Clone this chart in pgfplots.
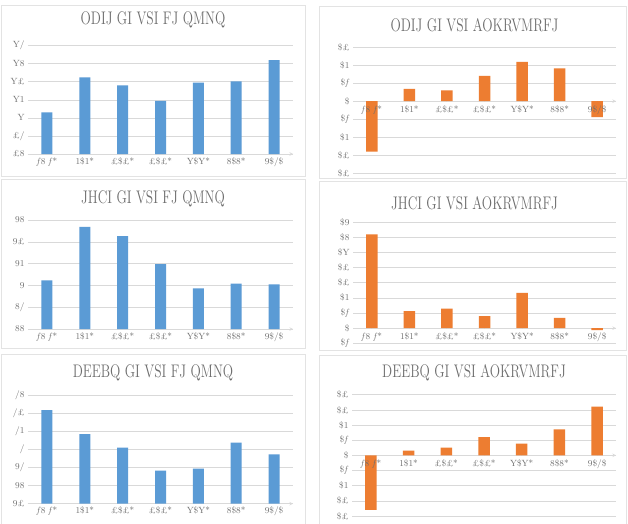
\documentclass[border=0pt]{standalone}
\usepackage{graphicx}
\usepackage{pgfplots}
\pgfplotsset{compat=1.18}
\definecolor{xlblue}{HTML}{5B9BD5}
\definecolor{xlorange}{HTML}{ED7D31}
\definecolor{gridc}{HTML}{D9D9D9}
\definecolor{boxc}{HTML}{E3E3E3}
\definecolor{txt}{HTML}{6E6E6E}
\newcommand{\ff}{\textit{f}}
\newcommand{\ttl}[1]{\scalebox{1}[1.35]{#1}}
\pgfplotsset{
 base/.style={scale only axis, anchor=south west, xmin=-0.5, xmax=6.5, xtick={0,...,6},
   ymajorgrids, grid style={gridc, line width=0.6pt}, major tick length=0pt,
   axis y line=left, y axis line style={draw=none},
   tick label style={font=\fontsize{9}{10}\selectfont, text=txt},
   title style={font=\fontsize{13.5}{15}\selectfont, text=txt, anchor=center, at={(rel axis cs:0.5,1)}},
   hide obscured x ticks=false, hide obscured y ticks=false,
   x axis line style={gridc, line width=0.6pt, -}},
 leftc/.style={base, width=265pt, axis x line=bottom, title style={xshift=-7.5pt},
   xticklabels={\ff8 \ff*, 1\$1*, £\$£*, £\$£*, Y\$Y*, 8\$8*, 9\$/\$}},
 rightc/.style={base, width=263pt, axis x line=middle, title style={xshift=-10pt},
   xticklabels={}, clip=false},
 lbls/.style={only marks, mark=*, mark size=0pt, mark options={draw=none,fill=none},
   point meta=explicit symbolic, nodes near coords,
   every node near coord/.style={anchor=north, yshift=-1pt, font=\fontsize{9}{10}\selectfont, text=txt}},
}
\begin{document}
\begin{tikzpicture}
\useasboundingbox (0pt,0pt) rectangle (628pt,523pt);
\fill[white] (0pt,0pt) rectangle (628pt,523pt);
\draw[boxc] (1pt,518pt) rectangle (305pt,347pt);
\draw[boxc] (1pt,344pt) rectangle (305pt,175pt);
\draw[boxc] (1pt,169pt) rectangle (305pt,-2pt);
\draw[boxc] (319pt,517pt) rectangle (626pt,345pt);
\draw[boxc] (319pt,342pt) rectangle (626pt,173pt);
\draw[boxc] (319pt,168pt) rectangle (626pt,-2pt);

% top-left
\begin{axis}[leftc, at={(28pt,369pt)}, height=108.3pt, ymin=46, ymax=58,
  ytick={46,48,50,52,54,56,58}, yticklabels={£8,£/,Y,Y1,Y£,Y8,Y/},
  title={\ttl{ODIJ GI VSI FJ QMNQ}}, title style={yshift=20pt}]
\addplot[ybar, bar width=11pt, fill=xlblue, draw=none] coordinates {(0,50.6) (1,54.5) (2,53.6) (3,51.9) (4,53.9) (5,54.05) (6,56.4)};
\end{axis}

% top-right
\begin{axis}[rightc, at={(353pt,349.7pt)}, height=126.3pt, ymin=-0.4, ymax=0.3,
  ytick={-0.4,-0.3,-0.2,-0.1,0,0.1,0.2,0.3}, yticklabels={\$£,\$£,\$1,\$\ff,\$,\$\ff,\$1,\$£},
  title={\ttl{ODIJ GI VSI AOKRVMRFJ}}, title style={yshift=16pt}]
\addplot[ybar, bar width=11.5pt, fill=xlorange, draw=none] coordinates {(0,-0.280) (1,0.068) (2,0.059) (3,0.140) (4,0.218) (5,0.181) (6,-0.089)};
\addplot[lbls] coordinates {(0,0) [\ff8 \ff*] (1,0) [1\$1*] (2,0) [£\$£*] (3,0) [£\$£*] (4,0) [Y\$Y*] (5,0) [8\$8*] (6,0) [9\$/\$]};
\end{axis}

% middle-left
\begin{axis}[leftc, at={(28pt,194pt)}, height=109pt, ymin=66, ymax=76,
  ytick={66,68,70,72,74,76}, yticklabels={88,8/,9,91,9£,98},
  title={\ttl{JHCI GI VSI FJ QMNQ}}, title style={yshift=15pt}]
\addplot[ybar, bar width=11pt, fill=xlblue, draw=none] coordinates {(0,70.46) (1,75.36) (2,74.53) (3,71.96) (4,69.73) (5,70.16) (6,70.10)};
\end{axis}

% middle-right
\begin{axis}[rightc, at={(353pt,179.7pt)}, height=121.3pt, ymin=-0.1, ymax=0.7,
  ytick={-0.1,0,0.1,0.2,0.3,0.4,0.5,0.6,0.7}, yticklabels={\$\ff,\$,\$\ff,\$1,\$£,\$£,\$Y,\$8,\$9},
  title={\ttl{JHCI GI VSI AOKRVMRFJ}}, title style={yshift=13pt}]
\addplot[ybar, bar width=11.5pt, fill=xlorange, draw=none] coordinates {(0,0.618) (1,0.112) (2,0.129) (3,0.079) (4,0.232) (5,0.068) (6,-0.013)};
\addplot[lbls] coordinates {(0,0) [\ff8 \ff*] (1,0) [1\$1*] (2,0) [£\$£*] (3,0) [£\$£*] (4,0) [Y\$Y*] (5,0) [8\$8*] (6,0) [9\$/\$]};
\end{axis}

% bottom-left
\begin{axis}[leftc, at={(28pt,19.3pt)}, height=108.7pt, ymin=74, ymax=86,
  ytick={74,76,78,80,82,84,86}, yticklabels={9£,98,9/,/,/1,/£,/8},
  title={\ttl{DEEBQ GI VSI FJ QMNQ}}, title style={yshift=16pt}]
\addplot[ybar, bar width=11pt, fill=xlblue, draw=none] coordinates {(0,84.34) (1,81.69) (2,80.18) (3,77.64) (4,77.86) (5,80.74) (6,79.45)};
\end{axis}

% bottom-right
\begin{axis}[rightc, at={(352pt,7pt)}, width=264pt, height=121.3pt, ymin=-0.4, ymax=0.4,
  ytick={-0.4,-0.3,-0.2,-0.1,0,0.1,0.2,0.3,0.4}, yticklabels={\$£,\$£,\$1,\$\ff,\$,\$\ff,\$1,\$£,\$£},
  title={\ttl{DEEBQ GI VSI AOKRVMRFJ}}, title style={yshift=16pt}]
\addplot[ybar, bar width=11.5pt, fill=xlorange, draw=none] coordinates {(0,-0.360) (1,0.031) (2,0.051) (3,0.121) (4,0.077) (5,0.171) (6,0.321)};
\addplot[lbls] coordinates {(0,0) [\ff8 \ff*] (1,0) [1\$1*] (2,0) [£\$£*] (3,0) [£\$£*] (4,0) [Y\$Y*] (5,0) [8\$8*] (6,0) [9\$/\$]};
\end{axis}
\end{tikzpicture}
\end{document}
